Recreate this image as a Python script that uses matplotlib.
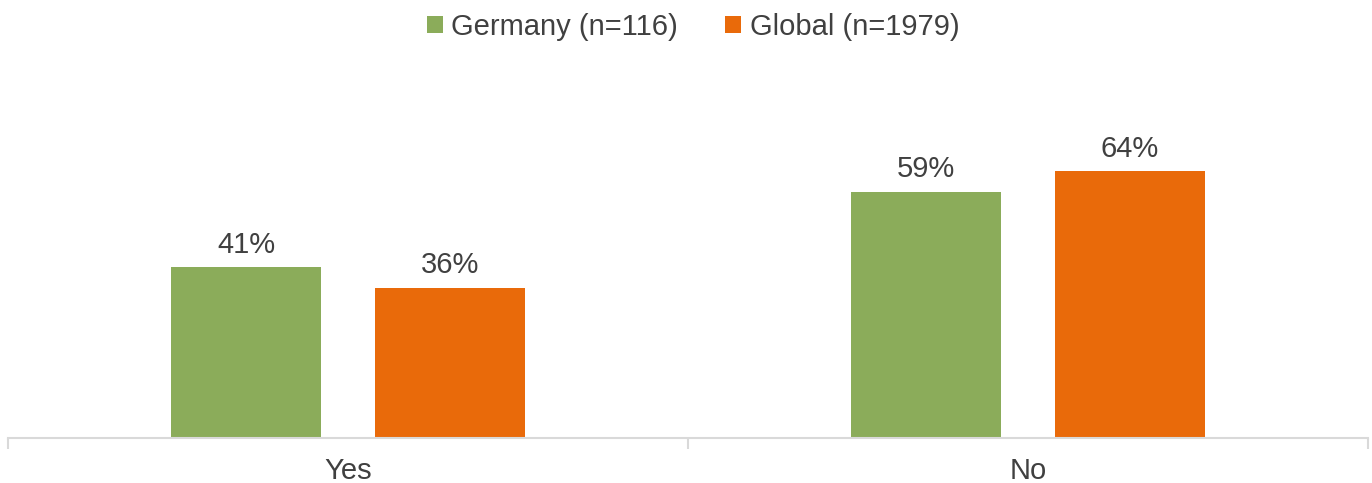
import matplotlib.pyplot as plt
import numpy as np

plt.rcParams['font.family'] = ['Liberation Sans', 'DejaVu Sans']

categories = ['Yes', 'No']
germany = [41, 59]
global_vals = [36, 64]
series_names = ['Germany (n=116)', 'Global (n=1979)']
colors = ['#8BAC5A', '#E96A0A']

fig = plt.figure(figsize=(13.72, 4.83), dpi=100)
ax = fig.add_axes([8 / 1372, 1 - 438 / 483, 1360 / 1372, 378 / 483])

x = np.arange(len(categories))
w = 0.22
b1 = ax.bar(x - 0.15, germany, w, color=colors[0], label=series_names[0])
b2 = ax.bar(x + 0.15, global_vals, w, color=colors[1], label=series_names[1])

for bars in (b1, b2):
    for bar in bars:
        ax.text(bar.get_x() + bar.get_width() / 2, bar.get_height() + 2.0,
                f'{bar.get_height():.0f}%', ha='center', va='bottom',
                fontsize=21, color='#404040')

ax.set_xlim(-0.5, 1.5)
ax.set_ylim(0, 90.6)
ax.set_yticks([])
for s in ['top', 'right', 'left']:
    ax.spines[s].set_visible(False)
ax.spines['bottom'].set_color('#D9D9D9')
ax.spines['bottom'].set_linewidth(1.5)

ax.set_xticks(x)
ax.set_xticklabels(categories, fontsize=21, color='#404040')
ax.tick_params(axis='x', which='major', length=0, pad=14)
ax.set_xticks([-0.5, 0.5, 1.5], minor=True)
ax.tick_params(axis='x', which='minor', length=8, width=1.5, color='#D9D9D9')

fig.legend(handles=[b1, b2], loc='center', bbox_to_anchor=(0.505, 1 - 27 / 483),
           ncol=2, frameon=False, fontsize=21, handlelength=0.55, handleheight=0.55,
           handletextpad=0.3, columnspacing=1.6, labelcolor='#404040')

fig.savefig('out.png', dpi=100)
